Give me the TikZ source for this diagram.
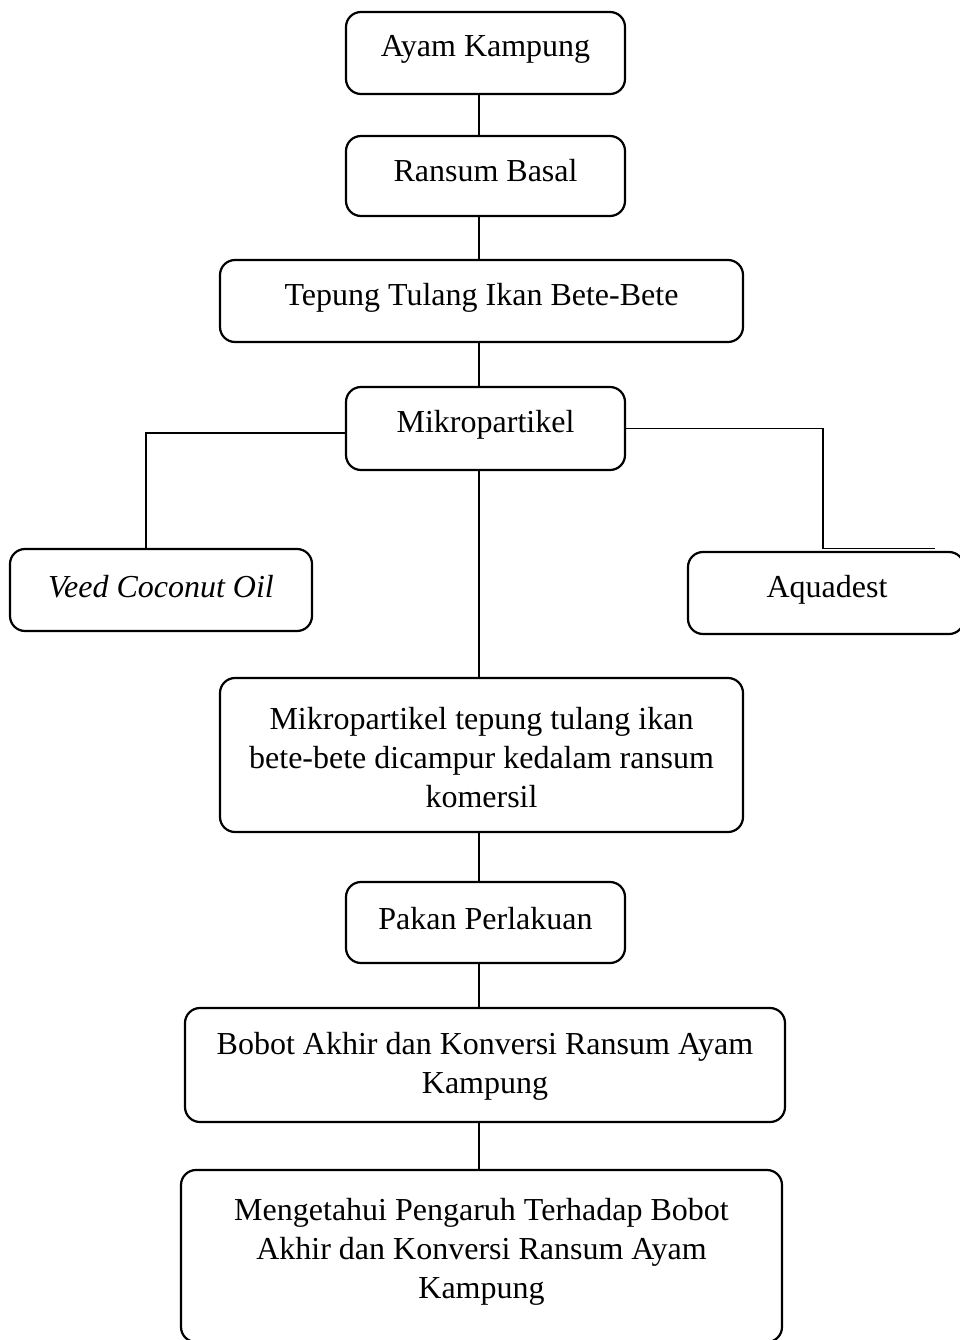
\documentclass[tikz,border=0pt]{standalone}
\usepackage{fontspec}
\setmainfont{Liberation Serif}
\begin{document}
\begin{tikzpicture}[x=1pt,y=-1pt,
  box/.style={draw, line width=2.2pt, rounded corners=15pt, inner sep=0pt},
  txt/.style={font=\fontsize{32}{39}\selectfont, align=center, inner sep=0pt},
  conn/.style={line width=1.2pt}]
\useasboundingbox (0,0) rectangle (960,1340);
\clip (0,0) rectangle (960,1340);
% boxes
\node[box, minimum width=279pt, minimum height=82pt] (b1) at (485.5,53) {};
\node[box, minimum width=279pt, minimum height=80pt] (b2) at (485.5,176) {};
\node[box, minimum width=523pt, minimum height=82pt] (b3) at (481.5,301) {};
\node[box, minimum width=279pt, minimum height=83pt] (b4) at (485.5,428.5) {};
\node[box, minimum width=302pt, minimum height=82pt] (b5) at (161,590) {};
\node[box, minimum width=276pt, minimum height=82pt] (b6) at (826,593) {};
\node[box, minimum width=523pt, minimum height=154pt] (b7) at (481.5,755) {};
\node[box, minimum width=279pt, minimum height=81pt] (b8) at (485.5,922.5) {};
\node[box, minimum width=600pt, minimum height=114pt] (b9) at (485,1065) {};
\node[box, minimum width=601pt, minimum height=172pt] (b10) at (481.5,1256) {};
% texts
\node[txt] (t1) at (485.5,49) {Ayam Kampung};
\node[txt] (t2) at (485.5,171) {Ransum Basal};
\node[txt] (t3) at (481.5,298) {Tepung Tulang Ikan Bete-Bete};
\node[txt] (t4) at (485.5,425) {Mikropartikel};
\node[txt] (t5) at (161,587) {\itshape Veed Coconut Oil};
\node[txt] (t6) at (827,590) {Aquadest};
\node[txt] (t7) at (481.5,758) {Mikropartikel tepung tulang ikan\\bete-bete dicampur kedalam ransum\\komersil};
\node[txt] (t8) at (485.5,919) {Pakan Perlakuan};
\node[txt] (t9) at (485,1066.5) {Bobot Akhir dan Konversi Ransum Ayam\\Kampung};
\node[txt] (t10) at (481.5,1252) {Mengetahui Pengaruh Terhadap Bobot\\Akhir dan Konversi Ransum Ayam\\Kampung};
% connectors
\coordinate (c) at (479,0);
\draw[conn] (b1.south -| c) -- (b2.north -| c);
\draw[conn] (b2.south -| c) -- (b3.north -| c);
\draw[conn] (b3.south -| c) -- (b4.north -| c);
\draw[conn] (b4.south -| c) -- (b7.north -| c);
\draw[conn] (b7.south -| c) -- (b8.north -| c);
\draw[conn] (b8.south -| c) -- (b9.north -| c);
\draw[conn] (b9.south -| c) -- (b10.north -| c);
\draw[conn] ([yshift=-4.5pt]b4.west) -| ([xshift=-15pt]b5.north);
\coordinate (r) at (823,548.5);
\draw[conn] (b4.east) -| (r) -- ++(112,0);
\end{tikzpicture}
\end{document}
